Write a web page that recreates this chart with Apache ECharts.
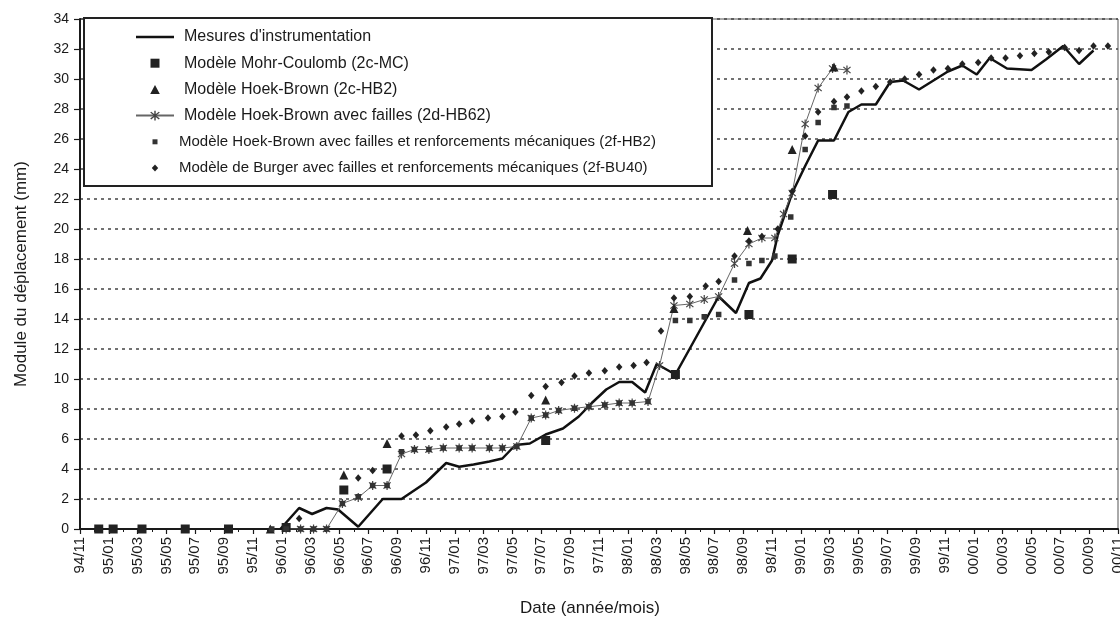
<!DOCTYPE html>
<html><head><meta charset="utf-8">
<script src="https://cdn.jsdelivr.net/npm/echarts@6/dist/echarts.min.js"></script>
<style>html,body{margin:0;padding:0;background:#fff}#c{width:1120px;height:625px}</style>
</head><body><div id="c"></div>
<script>
// x = months elapsed since 94/11 (year/month), y = displacement (mm)
const tickLabels = ['94/11','95/01','95/03','95/05','95/07','95/09','95/11','96/01','96/03','96/05','96/07','96/09','96/11',
  '97/01','97/03','97/05','97/07','97/09','97/11','98/01','98/03','98/05','98/07','98/09','98/11',
  '99/01','99/03','99/05','99/07','99/09','99/11','00/01','00/03','00/05','00/07','00/09','00/11'];

const seriesNames = ["Mesures d'instrumentation", "Modèle Mohr-Coulomb (2c-MC)", "Modèle Hoek-Brown (2c-HB2)",
  "Modèle Hoek-Brown avec failles (2d-HB62)",
  "Modèle Hoek-Brown avec failles et renforcements mécaniques (2f-HB2)",
  "Modèle de Burger avec failles et renforcements mécaniques (2f-BU40)"];

const mesures = [[13.9,0],[15.2,1.4],[16.1,1.0],[17.1,1.4],[17.9,1.3],[19.3,0.15],[21.0,2.0],[22.3,2.0],[24.0,3.1],
  [25.4,4.4],[26.3,4.15],[27.3,4.3],[28.4,4.5],[29.3,4.7],[30.2,5.6],[31.2,5.7],[32.3,6.3],[33.5,6.7],[34.6,7.5],
  [35.5,8.4],[36.5,9.3],[37.4,9.8],[38.3,9.8],[39.2,9.1],[40.0,11.0],[41.3,10.3],[44.3,15.5],[45.5,14.4],[46.4,16.4],
  [47.2,16.7],[48.0,17.9],[48.4,19.6],[49.4,22.4],[50.3,24.2],[51.2,25.9],[52.3,25.9],[53.3,27.8],[54.2,28.3],
  [55.2,28.3],[56.2,29.8],[57.1,29.9],[58.2,29.3],[59.2,29.9],[60.2,30.5],[61.2,30.9],[62.2,30.3],[63.1,31.4],
  [64.3,30.7],[66.0,30.6],[67.0,31.3],[68.2,32.2],[69.3,31.0],[70.3,31.9]];

const mohrCoulomb = [[1.3,0],[2.3,0],[4.3,0],[7.3,0],[10.3,0],[14.3,0.1],[18.3,2.6],[21.3,4.0],[32.3,5.9],
  [41.3,10.3],[46.4,14.3],[49.4,18.0],[52.2,22.3]];

const hoekBrown = [[13.2,0],[18.3,3.6],[21.3,5.7],[32.3,8.6],[41.2,14.7],[46.3,19.9],[49.4,25.3],[52.3,30.8]];

const hoekBrownFailles = [[14.3,0],[15.3,0],[16.2,0],[17.1,0],[18.2,1.7],[19.3,2.1],[20.3,2.9],[21.3,2.9],[22.3,5.0],
  [23.2,5.3],[24.2,5.3],[25.2,5.4],[26.3,5.4],[27.2,5.4],[28.4,5.4],[29.3,5.4],[30.3,5.5],[31.3,7.4],[32.3,7.6],
  [33.2,7.9],[34.3,8.05],[35.3,8.15],[36.4,8.27],[37.4,8.4],[38.3,8.4],[39.4,8.5],[40.2,10.9],[41.2,14.9],[42.3,15.0],
  [43.3,15.3],[44.3,15.5],[45.4,17.7],[46.4,19.0],[47.3,19.4],[48.2,19.4],[48.8,21.0],[49.4,22.4],[50.3,27.0],
  [51.2,29.4],[52.2,30.7],[53.2,30.6]];

const hoekBrownRenf = [[13.3,0],[14.3,0],[15.3,0],[16.2,0],[17.1,0],[18.2,1.7],[19.3,2.15],[20.3,2.9],[21.3,2.9],
  [22.3,5.15],[23.2,5.3],[24.2,5.3],[25.2,5.4],[26.3,5.4],[27.2,5.4],[28.4,5.4],[29.3,5.4],[30.3,5.5],[31.3,7.4],
  [32.3,7.6],[33.2,7.9],[34.3,8.05],[35.3,8.15],[36.4,8.27],[37.4,8.4],[38.3,8.4],[39.4,8.5],[41.3,13.9],[42.3,13.9],
  [43.3,14.15],[44.3,14.3],[45.4,16.6],[46.4,17.7],[47.3,17.9],[48.2,18.2],[49.3,20.8],[50.3,25.3],[51.2,27.1],
  [52.3,28.1],[53.2,28.2]];

const burger = [[15.2,0.7],[19.3,3.4],[20.3,3.9],[22.3,6.2],[23.3,6.27],[24.3,6.55],[25.4,6.8],[26.3,7.0],[27.2,7.2],
  [28.3,7.4],[29.3,7.5],[30.2,7.8],[31.3,8.9],[32.3,9.5],[33.4,9.76],[34.3,10.2],[35.3,10.4],[36.4,10.55],[37.4,10.8],
  [38.4,10.9],[39.3,11.1],[40.3,13.2],[41.2,15.4],[42.3,15.5],[43.4,16.2],[44.3,16.5],[45.4,18.2],[46.4,19.2],
  [47.3,19.5],[48.4,20.0],[49.4,22.5],[50.3,26.2],[51.2,27.8],[52.3,28.5],[53.2,28.8],[54.2,29.2],[55.2,29.5],
  [56.2,29.8],[57.2,30.0],[58.2,30.3],[59.2,30.6],[60.2,30.7],[61.2,31.0],[62.3,31.1],[63.2,31.4],[64.2,31.4],
  [65.2,31.55],[66.2,31.7],[67.2,31.8],[68.3,32.1],[69.3,31.9],[70.3,32.2],[71.3,32.2]];

const FONT = 'Liberation Sans, Arial, sans-serif';
const INK = '#1a1a1a';
const starPath = 'path://M-0.6,-5L0.6,-5L0.6,5L-0.6,5Z M3.12,3.96L-3.96,-3.12L-3.12,-3.96L3.96,3.12Z M3.96,-3.12L-3.12,3.96L-3.96,3.12L3.12,-3.96Z';

const chart = echarts.init(document.getElementById('c'), null, {renderer: 'canvas'});
const bigText = {fontSize: 16, fontFamily: FONT, color: INK, lineHeight: 16, padding: [0, 0, 0, 5]};
const smallText = {fontSize: 15, fontFamily: FONT, color: INK, lineHeight: 16};
chart.setOption({
  animation: false,
  backgroundColor: '#fff',
  grid: {left: 80, right: 2, top: 19, bottom: 96, show: true, borderColor: '#555', borderWidth: 1,
         containLabel: false, outerBoundsMode: 'none'},
  graphic: [{type: 'rect', left: 83, top: 17, z: 5, silent: true,
             shape: {width: 628, height: 168}, style: {fill: '#fff', stroke: '#222', lineWidth: 2}}],
  legend: {
    orient: 'vertical', left: 135, top: 29, z: 6, itemWidth: 38, itemHeight: 12, itemGap: 10.2,
    selectedMode: false, padding: 0,
    textStyle: {fontSize: 16, fontFamily: FONT, color: INK},
    data: [
      {name: seriesNames[0], icon: 'path://M0,0L38,0L38,2.4L0,2.4Z', textStyle: bigText},
      {name: seriesNames[1], icon: 'path://M0,0M12,12M1.5,1.5L10.5,1.5L10.5,10.5L1.5,10.5Z', textStyle: bigText},
      {name: seriesNames[2], icon: 'path://M0,0M12,12M6,1.5L10.8,10.5L1.2,10.5Z', textStyle: bigText},
      {name: seriesNames[3], textStyle: bigText},
      {name: seriesNames[4], icon: 'path://M0,0M12,12M3.5,3.5L8.5,3.5L8.5,8.5L3.5,8.5Z', textStyle: smallText},
      {name: seriesNames[5], icon: 'path://M0,0M12,12M6,2.6L9.2,6L6,9.4L2.8,6Z', textStyle: smallText}
    ]
  },
  xAxis: {
    type: 'value', min: 0, max: 72, interval: 2,
    name: 'Date (année/mois)', nameLocation: 'middle', nameGap: 71,
    nameTextStyle: {fontSize: 17, fontFamily: FONT, color: INK, padding: [0, 18, 0, 0]},
    axisLine: {show: true, onZero: false, lineStyle: {color: INK, width: 2}},
    axisTick: {show: true, length: 5, lineStyle: {color: INK, width: 1.2}},
    minorTick: {show: true, splitNumber: 2, length: 3, lineStyle: {color: INK, width: 1}},
    splitLine: {show: false},
    axisLabel: {rotate: 90, fontSize: 15, fontFamily: FONT, color: INK, margin: 8,
                formatter: v => tickLabels[Math.round(v / 2)] || ''}
  },
  yAxis: {
    type: 'value', min: 0, max: 34, interval: 2,
    name: 'Module du déplacement (mm)', nameLocation: 'middle', nameGap: 50,
    nameTextStyle: {fontSize: 17, fontFamily: FONT, color: INK},
    axisLine: {show: true, lineStyle: {color: INK, width: 2}},
    axisTick: {show: true, length: 6, lineStyle: {color: INK, width: 1.2}},
    axisLabel: {fontSize: 14, fontFamily: FONT, color: INK, margin: 11},
    splitLine: {show: true, lineStyle: {type: [3, 4], color: '#444', width: 1.6}}
  },
  series: [
    {name: seriesNames[0], type: 'line', data: mesures, symbol: 'none', z: 3,
     lineStyle: {color: '#111', width: 2.5}, itemStyle: {color: '#111'}},
    {name: seriesNames[1], type: 'scatter', data: mohrCoulomb, symbol: 'rect', symbolSize: 9, z: 4,
     itemStyle: {color: '#222', opacity: 1}},
    {name: seriesNames[2], type: 'scatter', data: hoekBrown, symbol: 'triangle', symbolSize: 9, z: 4,
     itemStyle: {color: '#222', opacity: 1}},
    {name: seriesNames[3], type: 'line', data: hoekBrownFailles, symbol: starPath, symbolSize: [8, 9], z: 3,
     showSymbol: true, lineStyle: {color: '#666', width: 1}, itemStyle: {color: '#444'}},
    {name: seriesNames[4], type: 'scatter', data: hoekBrownRenf, symbol: 'rect', symbolSize: 5.5, z: 4,
     itemStyle: {color: '#333', opacity: 1}},
    {name: seriesNames[5], type: 'scatter', data: burger, symbol: 'diamond', symbolSize: [6.5, 7.5], z: 4,
     itemStyle: {color: '#222', opacity: 1}}
  ]
});
</script>
</body></html>
